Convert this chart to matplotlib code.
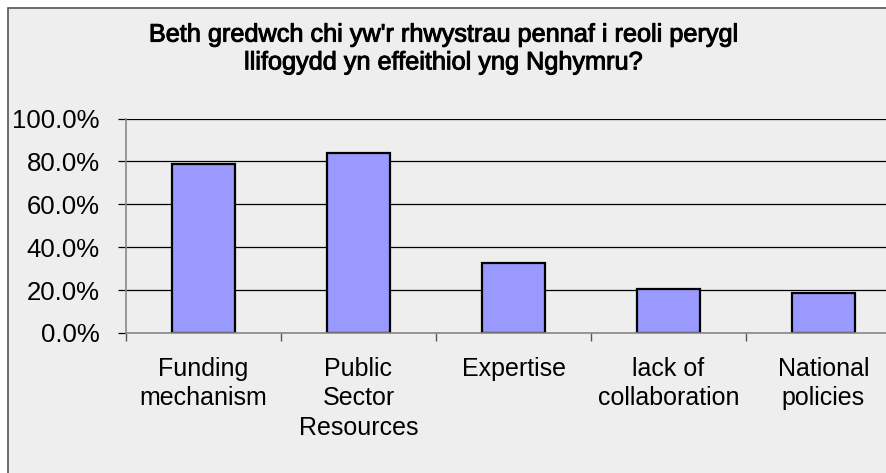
import matplotlib
matplotlib.use("Agg")
import matplotlib.pyplot as plt
from matplotlib.patches import Rectangle
from matplotlib.ticker import FuncFormatter, FixedLocator
import matplotlib.patheffects as pe

categories = ["Funding\nmechanism", "Public\nSector\nResources", "Expertise",
              "lack of\ncollaboration", "National\npolicies"]
values = [0.79, 0.838, 0.326, 0.207, 0.186]
yticks = [0.0, 0.2, 0.4, 0.6, 0.8, 1.0]
title = "Beth gredwch chi yw'r rhwystrau pennaf i reoli perygl\nllifogydd yn effeithiol yng Nghymru?"

plt.rcParams['font.family'] = ['Liberation Sans', 'DejaVu Sans']

W, H = 887, 473
fig = plt.figure(figsize=(W / 100, H / 100), dpi=100, facecolor='white')
bg = '#EEEEEE'
fig.patches.append(Rectangle((8 / W, -0.5), 2.0, 1.5 - 8 / H, transform=fig.transFigure,
                             facecolor=bg, edgecolor='#555555', linewidth=1.2, zorder=-10))

left, right = 126 / W, 901 / W
bottom, top = 1 - 333 / H, 1 - 118.5 / H
ax = fig.add_axes([left, bottom, right - left, top - bottom])
ax.set_facecolor('none')

x = list(range(len(categories)))
ax.bar(x, values, width=0.406, color='#9999FF', edgecolor='black', linewidth=1.6, zorder=3)
ax.set_xlim(-0.5, len(categories) - 0.5)
ax.set_ylim(0, 1.0)
ax.yaxis.set_major_locator(FixedLocator(yticks))
ax.yaxis.set_major_formatter(FuncFormatter(lambda v, p: f"{v * 100:.1f}%"))
ax.yaxis.grid(True, color='black', linewidth=0.9, zorder=1)
ax.set_axisbelow(True)

for s in ['top', 'right']:
    ax.spines[s].set_visible(False)
for s in ['left', 'bottom']:
    ax.spines[s].set_color('#888888')
    ax.spines[s].set_linewidth(1.2)
    ax.spines[s].set_zorder(4)

ax.set_xticks(x)
ax.set_xticklabels(categories, fontsize=18, linespacing=1.3)
ax.set_xticks([i - 0.5 for i in range(len(categories) + 1)], minor=True)
ax.tick_params(axis='x', which='major', length=0, pad=17)
ax.tick_params(axis='x', which='minor', length=6, color='#555555', width=1)
ax.tick_params(axis='y', which='major', length=6, color='black', width=0.9,
               labelsize=18.5, pad=13)

fig.text(0.5, 1 - 48.5 / H, title, ha='center', va='center', fontsize=18.2,
         linespacing=1.2,
         path_effects=[pe.withStroke(linewidth=0.7, foreground='black')])

fig.savefig('out.png', dpi=100, facecolor='white')
